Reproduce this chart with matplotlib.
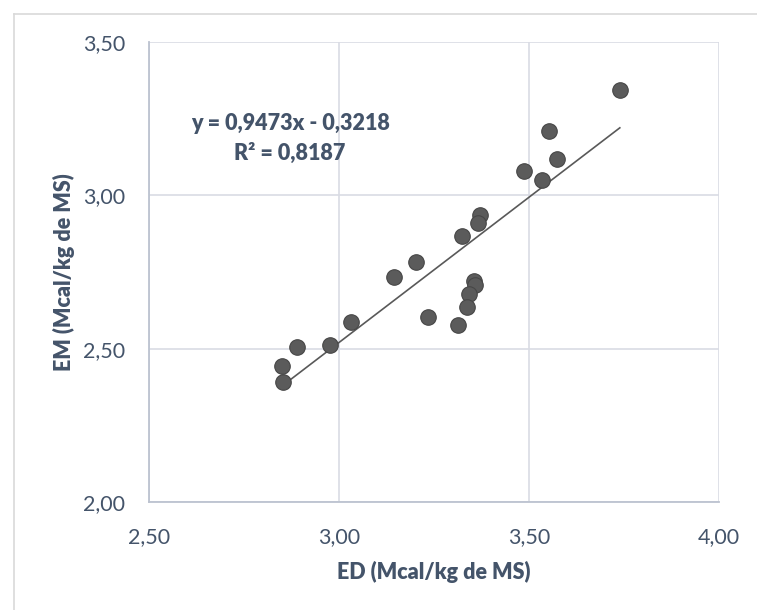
import matplotlib
matplotlib.use("Agg")
import matplotlib.pyplot as plt
from matplotlib.lines import Line2D
from matplotlib.ticker import FuncFormatter, MultipleLocator
import numpy as np

# ED / EM values (Mcal/kg de MS)
ed = [3.739, 3.552, 3.573, 3.488, 3.533, 3.372, 3.367, 3.323, 3.203, 3.146,
      3.356, 3.359, 3.341, 3.338, 3.314, 3.235, 3.032, 2.977, 2.889, 2.851,
      2.852]
em = [3.343, 3.209, 3.117, 3.078, 3.049, 2.937, 2.909, 2.868, 2.781, 2.733,
      2.722, 2.709, 2.679, 2.637, 2.578, 2.602, 2.588, 2.512, 2.507, 2.444,
      2.392]

slope = 0.9473
intercept = -0.3218
r2 = 0.8187

text_color = "#44546A"
plt.rcParams["font.family"] = ["Lato", "DejaVu Sans"]

fig = plt.figure(figsize=(7.57, 6.10), dpi=100)
fig.patch.set_facecolor("white")

# chart-area frame (left and top edges visible)
fx = 13.5 / 757
fy = 1 - 13.5 / 610
fig.add_artist(Line2D([fx, fx], [0, fy], transform=fig.transFigure,
                      color="#D9D9D9", lw=1.2))
fig.add_artist(Line2D([fx, 1], [fy, fy], transform=fig.transFigure,
                      color="#D9D9D9", lw=1.2))

ax = fig.add_axes([149 / 757, 1 - 502 / 610, 570 / 757, 460 / 610])
ax.set_xlim(2.5, 4.0)
ax.set_ylim(2.0, 3.5)
ax.xaxis.set_major_locator(MultipleLocator(0.5))
ax.yaxis.set_major_locator(MultipleLocator(0.5))

comma = FuncFormatter(lambda v, _: f"{v:.2f}".replace(".", ","))
ax.xaxis.set_major_formatter(comma)
ax.yaxis.set_major_formatter(comma)

ax.grid(True, color="#D9DCE4", lw=1.2)
ax.set_axisbelow(True)
for side in ("top", "right"):
    ax.spines[side].set_visible(False)
for side in ("left", "bottom"):
    ax.spines[side].set_color("#BCC3D0")
    ax.spines[side].set_linewidth(1.3)

ax.tick_params(length=0, labelsize=15.5, colors=text_color)
ax.tick_params(axis="x", pad=18)
ax.tick_params(axis="y", pad=17)

# linear trend line over data range
xs = np.array([min(ed), max(ed)])
ax.plot(xs, slope * xs + intercept, color="#595959", lw=1.2, zorder=2)

ax.scatter(ed, em, s=125, color="#5B5B5B", edgecolors="#474747",
           linewidths=0.8, zorder=3)

ax.text(0.2475, 0.823, f"y = {slope:.4f}x - {-intercept:.4f}".replace(".", ","),
        transform=ax.transAxes, ha="center", va="center",
        fontsize=15.5, fontweight="heavy", color=text_color)
ax.text(0.2475, 0.757, f"R² = {r2:.4f}".replace(".", ","),
        transform=ax.transAxes, ha="center", va="center",
        fontsize=15.5, fontweight="heavy", color=text_color)

ax.set_xlabel("ED (Mcal/kg de MS)", fontsize=15.5, fontweight="heavy",
              color=text_color, labelpad=10)
ax.set_ylabel("EM (Mcal/kg de MS)", fontsize=15.5, fontweight="heavy",
              color=text_color, labelpad=6)

fig.savefig("out.png", dpi=100)
